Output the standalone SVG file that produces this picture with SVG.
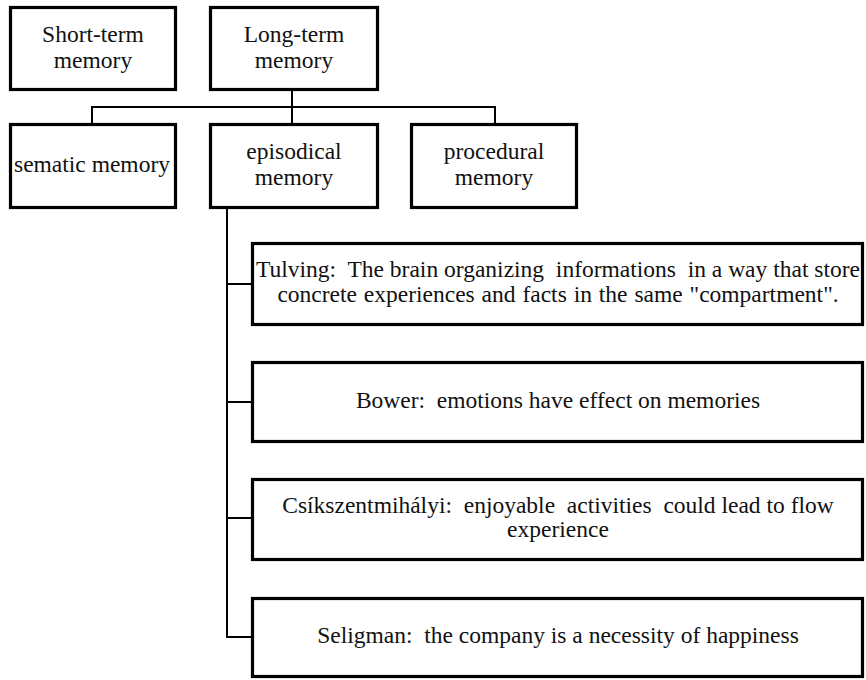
<svg xmlns="http://www.w3.org/2000/svg" width="866" height="680" viewBox="0 0 866 680">
<style>
.box{fill:#fff;stroke:#000;stroke-width:3.2}
text{font-family:'Liberation Serif','Times New Roman',Times,serif;font-size:23.5px;fill:#111;text-anchor:middle;white-space:pre}
.c{fill:none;stroke:#000;stroke-width:2}
</style>
<rect width="866" height="680" fill="#fff"/>
<g id="connectors">
<path class="c" d="M92,124 V107 H495 V124 M292,91 V124"/>
<path class="c" d="M227,209 V637 M226,284 H252 M226,402 H252 M226,518 H252 M226,637 H252"/>
</g>
<g id="short-term">
<rect class="box" x="10.5" y="7.5" width="165" height="82"/>
<text x="93" y="42">Short-term</text>
<text x="93" y="68">memory</text>
</g>
<g id="long-term">
<rect class="box" x="210.5" y="7.5" width="167" height="82"/>
<text x="294" y="42">Long-term</text>
<text x="294" y="68">memory</text>
</g>
<g id="sematic">
<rect class="box" x="10.5" y="124.5" width="165" height="83"/>
<text x="92" y="172">sematic memory</text>
</g>
<g id="episodical">
<rect class="box" x="210.5" y="124.5" width="167" height="83"/>
<text x="294" y="159">episodical</text>
<text x="294" y="185">memory</text>
</g>
<g id="procedural">
<rect class="box" x="411.5" y="124.5" width="165" height="83"/>
<text x="494" y="159">procedural</text>
<text x="494" y="185">memory</text>
</g>
<g id="tulving">
<rect class="box" x="252.5" y="243.5" width="610" height="81"/>
<text x="558" y="277">Tulving:  The brain organizing  informations  in a way that store</text>
<text x="558" y="302" word-spacing="1">concrete experiences and facts in the same "compartment".</text>
</g>
<g id="bower">
<rect class="box" x="252.5" y="362.5" width="610" height="79"/>
<text x="558" y="408">Bower:  emotions have effect on memories</text>
</g>
<g id="csikszentmihalyi">
<rect class="box" x="252.5" y="479.5" width="610" height="80"/>
<text x="558" y="513">Csíkszentmihályi:  enjoyable  activities  could lead to flow</text>
<text x="558" y="537">experience</text>
</g>
<g id="seligman">
<rect class="box" x="252.5" y="598.5" width="610" height="78"/>
<text x="558" y="643">Seligman:  the company is a necessity of happiness</text>
</g>
</svg>
